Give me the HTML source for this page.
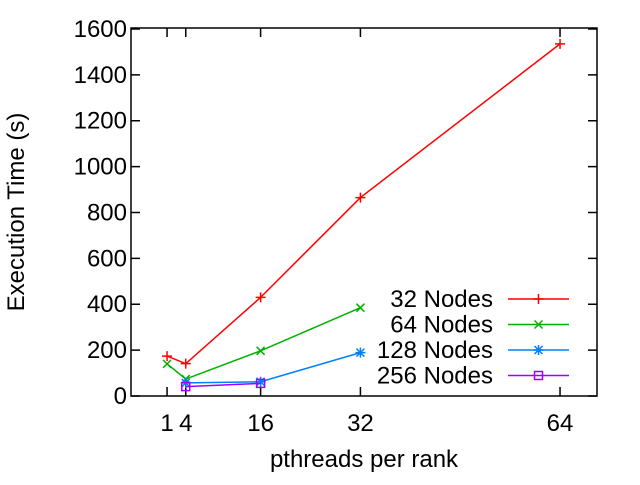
<!DOCTYPE html>
<html><head><meta charset="utf-8"><style>
body{margin:0;background:#fff;}
svg text{font-family:"Liberation Sans",sans-serif;font-size:24px;fill:#000;}
</style></head><body>
<svg id="c" width="640" height="480">
<rect x="131" y="28" width="466" height="368" fill="none" stroke="#000" stroke-width="1.5"/>
<text transform="translate(24,212) rotate(-90)" text-anchor="middle">Execution Time (s)</text>
<text x="364" y="467" text-anchor="middle">pthreads per rank</text>
<g id="ax"></g><g id="marks"></g><g id="leg"></g>
</svg>
<script>
const xTicks=[1,4,16,32,64];
const xTickLabels=["1","4","16","32","64"];
const yTicks=[0,200,400,600,800,1000,1200,1400,1600];
const seriesNames=["32 Nodes","64 Nodes","128 Nodes","256 Nodes"];
const s32x=[1,4,16,32,64];const s32y=[174,141,430,865,1535];
const s64x=[1,4,16,32];const s64y=[140,74,197,385];
const s128x=[4,16,32];const s128y=[57,62,189];
const s256x=[4,16];const s256y=[41,55];
const NS="http://www.w3.org/2000/svg";
const X=v=>160.8+v*6.238, Y=v=>396-v*0.2294;
function mk(tag,attrs,parent){const e=document.createElementNS(NS,tag);for(const k in attrs)e.setAttribute(k,attrs[k]);parent.appendChild(e);return e;}
const ax=document.getElementById('ax');
yTicks.forEach(t=>{
 const l=mk('path',{d:`M131 ${Y(t)}h9M597 ${Y(t)}h-9`,stroke:'#000','stroke-width':1.5},ax);
 
 
 const tx=mk('text',{x:127,y:Y(t)+8,'text-anchor':'end'},ax);tx.textContent=t;
 
 
});
xTicks.forEach((t,i)=>{
 const l=mk('path',{d:`M${X(t)} 396v-9M${X(t)} 28v9`,stroke:'#000','stroke-width':1.5},ax);
 
 
 const tx=mk('text',{x:X(t),y:431,'text-anchor':'middle'},ax);tx.textContent=xTickLabels[i];
 
 
});
function marker(kind,x,y,col,g){
 let d;
 if(kind==0)d=`M${x-5} ${y}h10M${x} ${y-5}v10`;
 else if(kind==1)d=`M${x-4} ${y-4}l8 8M${x-4} ${y+4}l8 -8`;
 else if(kind==2)d=`M${x-5} ${y}h10M${x} ${y-5}v10M${x-4} ${y-4}l8 8M${x-4} ${y+4}l8 -8`;
 else d=`M${x-4} ${y-4}h8v8h-8z`;
 mk('path',{d:d,stroke:col,'stroke-width':1.5,fill:'none'},g);
}
const cols=["#ff0000","#00b000","#0080ff","#a000ff"];
const sx=[s32x,s64x,s128x,s256x],sy=[s32y,s64y,s128y,s256y];
const marks=document.getElementById('marks'),leg=document.getElementById('leg');
sx.forEach((xs,i)=>{
 const g=mk('g',{},marks);
 
 
 mk('polyline',{points:xs.map((x,j)=>X(x)+','+Y(sy[i][j])).join(' '),fill:'none',stroke:cols[i],'stroke-width':1.5},g);
 xs.forEach((x,j)=>marker(i,X(x),Y(sy[i][j]),cols[i],g));
 const ly=299+i*25.5;
 const lg=mk('g',{},leg);
 
 
 const t=mk('text',{x:493,y:ly+8,'text-anchor':'end'},lg);t.textContent=seriesNames[i];
 mk('path',{d:`M508 ${ly}h61`,stroke:cols[i],'stroke-width':1.5},lg);
 marker(i,538.5,ly,cols[i],lg);
});
</script>
</body></html>
